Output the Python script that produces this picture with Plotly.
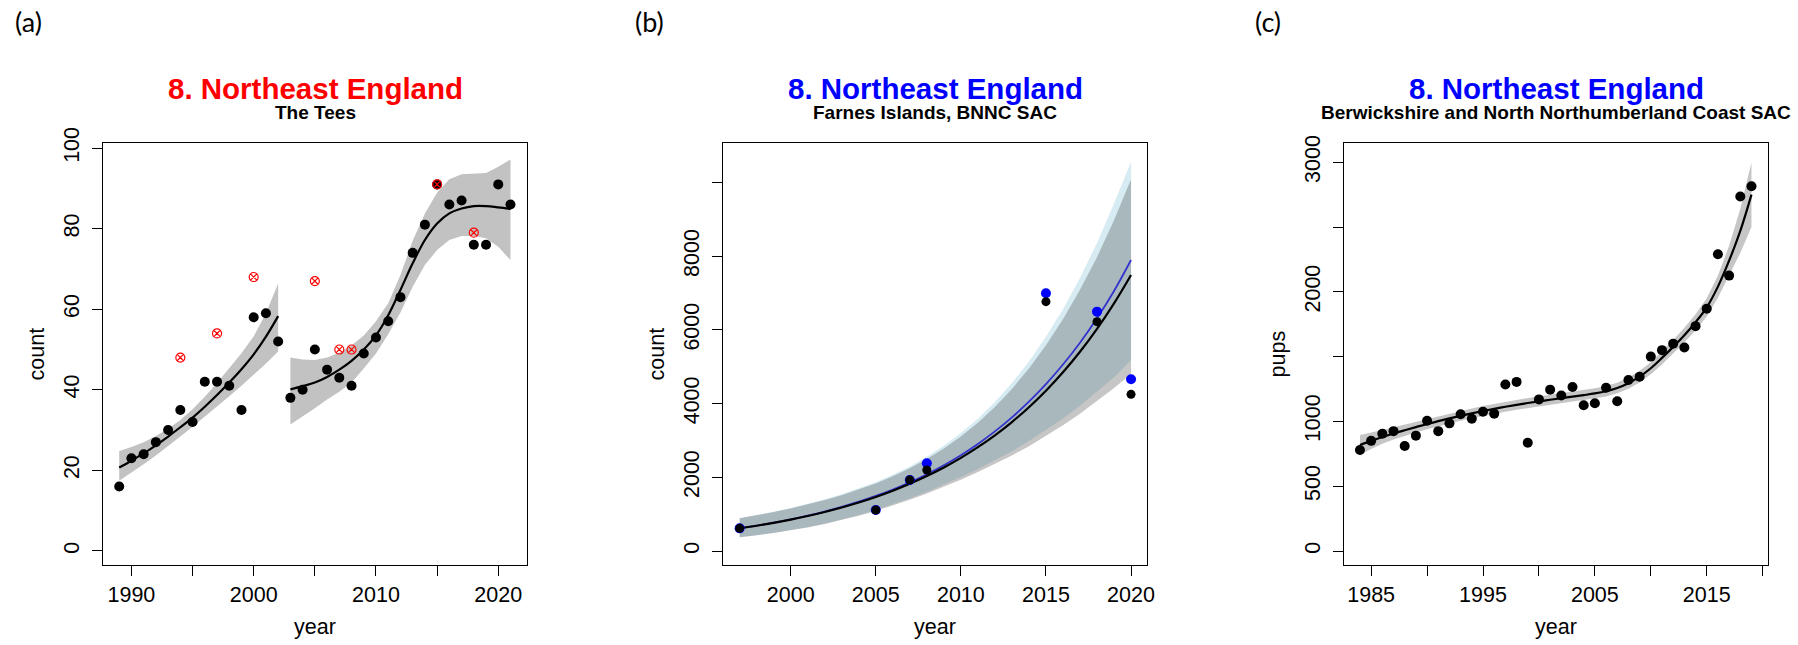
import plotly.graph_objects as go

W, H = 1798, 645
FONT = "Liberation Sans, Arial, sans-serif"

# ---------------- Panel (a): The Tees ----------------
a_years = list(range(1989, 2022))
a_counts = [16, 23, 24, 27, 30, 35, 32, 42, 42, 41, 35, 58, 59, 52, 38, 40, 50, 45, 43, 41,
            49, 53, 57, 63, 74, 81, 91, 86, 87, 76, 76, 91, 86]
a_red_years = [1994, 1997, 2000, 2005, 2007, 2008, 2015, 2018]
a_red_counts = [48, 54, 68, 67, 50, 50, 91, 79]

a_fit1_years = list(range(1989, 2003))
a_fit1 = [20.7, 22.4, 24.2, 26.2, 28.4, 30.7, 33.1, 35.8, 38.7, 41.8, 45.1, 48.8, 53.2, 58.3]
a_fit1_up = [24.8, 25.8, 27.0, 28.5, 30.3, 32.5, 35.2, 38.3, 41.7, 45.3, 49.1, 53.3, 59.0, 66.4]
a_fit1_lo = [17.4, 19.4, 21.5, 23.7, 26.0, 28.4, 30.8, 33.3, 35.8, 38.4, 41.0, 43.7, 46.5, 49.5]

a_fit2_years = list(range(2003, 2022))
a_fit2 = [40.1, 40.9, 41.8, 43.2, 45.0, 47.2, 50.0, 53.5, 58.5, 64.8, 71.4, 77.2, 81.3, 83.8,
          85.0, 85.6, 85.6, 85.3, 84.9]
a_fit2_up = [48.0, 47.5, 47.4, 48.0, 49.2, 51.0, 53.5, 57.0, 61.5, 68.5, 77.0, 83.8, 89.0, 92.3,
             93.5, 93.7, 93.8, 95.4, 97.2]
a_fit2_lo = [31.4, 33.5, 35.4, 37.6, 39.5, 41.8, 45.3, 49.0, 53.8, 59.2, 65.6, 71.0, 74.7, 77.2,
             78.2, 78.2, 77.6, 75.5, 72.2]

# ---------------- Panel (b): Farnes Islands ----------------
b_years = [1997, 2005, 2007, 2008, 2015, 2018, 2020]
b_black = [615, 1113, 1927, 2198, 6766, 6224, 4252]
b_blue = [615, 1113, 1927, 2380, 6993, 6496, 4659]

b_fit_years = list(range(1997, 2021))
b_fit_black = [615, 686, 765, 852, 950, 1059, 1181, 1316, 1467, 1636, 1824, 2033, 2266, 2527,
               2817, 3140, 3500, 3902, 4350, 4850, 5406, 6027, 6719, 7490]
b_black_up = [887, 969, 1059, 1156, 1264, 1383, 1516, 1666, 1835, 2027, 2245, 2497, 2783, 3108,
              3482, 3909, 4396, 4952, 5581, 6290, 7087, 7974, 8977, 10089]
b_black_lo = [372, 427, 489, 560, 641, 734, 839, 955, 1087, 1234, 1390, 1559, 1743, 1936,
              2141, 2358, 2594, 2845, 3119, 3410, 3725, 4062, 4421, 4801]
b_fit_blue = [615, 687, 768, 858, 959, 1071, 1197, 1337, 1494, 1669, 1865, 2084, 2328, 2601,
              2906, 3247, 3628, 4053, 4529, 5060, 5653, 6316, 7057, 7897]
b_blue_up = [887, 970, 1063, 1164, 1275, 1399, 1537, 1693, 1869, 2068, 2296, 2559, 2859, 3199,
             3592, 4043, 4557, 5143, 5811, 6563, 7411, 8356, 9428, 10566]
b_blue_lo = [372, 428, 492, 565, 649, 744, 852, 975, 1112, 1263, 1429, 1607, 1800, 2005,
             2223, 2458, 2710, 2983, 3279, 3598, 3940, 4314, 4714, 5180]

# ---------------- Panel (c): Berwickshire & N. Northumberland ----------------
c_years = list(range(1984, 2020))
c_pups = [780, 850, 905, 925, 810, 890, 1005, 925, 985, 1055, 1020, 1075, 1060, 1285, 1305, 835,
          1170, 1245, 1200, 1265, 1125, 1140, 1260, 1155, 1320, 1345, 1500, 1550, 1600, 1570,
          1735, 1870, 2290, 2125, 2735, 2815]
c_fit = [818, 850, 880, 907, 932, 956, 980, 1002, 1023, 1043, 1062, 1080, 1097, 1113, 1128, 1142,
         1155, 1167, 1179, 1191, 1203, 1216, 1233, 1258, 1295, 1345, 1410, 1490, 1575, 1665,
         1765, 1880, 2040, 2240, 2470, 2750]
c_up = [895, 912, 933, 954, 975, 997, 1020, 1041, 1061, 1081, 1100, 1118, 1135, 1151, 1166, 1180,
        1193, 1205, 1217, 1229, 1241, 1255, 1273, 1299, 1338, 1390, 1457, 1540, 1628, 1722,
        1827, 1950, 2125, 2355, 2640, 3000]
c_lo = [741, 788, 827, 860, 889, 915, 940, 963, 985, 1005, 1024, 1042, 1059, 1075, 1090, 1104,
        1117, 1129, 1141, 1153, 1165, 1177, 1193, 1217, 1252, 1300, 1363, 1440, 1522, 1608,
        1703, 1810, 1955, 2125, 2300, 2500]

# ticks
a_xticks = [1990, 1995, 2000, 2005, 2010, 2015, 2020]
a_xlabels = ["1990", "", "2000", "", "2010", "", "2020"]
a_yticks = [0, 20, 40, 60, 80, 100]
b_xticks = [2000, 2005, 2010, 2015, 2020]
b_yticks = [0, 2000, 4000, 6000, 8000, 10000]
b_ylabels = ["0", "2000", "4000", "6000", "8000", ""]
c_xticks = [1985, 1990, 1995, 2000, 2005, 2010, 2015, 2020]
c_xlabels = ["1985", "", "1995", "", "2005", "", "2015", ""]
c_yticks = [0, 500, 1000, 1500, 2000, 2500, 3000]
c_ylabels = ["0", "500", "1000", "", "2000", "", "3000"]

titles = ["8. Northeast England"] * 3
title_colors = ["#ff0000", "#0000ff", "#0000ff"]
subtitles = ["The Tees", "Farnes Islands, BNNC SAC",
             "Berwickshire and North Northumberland Coast SAC"]
ylabels = ["count", "count", "pups"]
letters = ["(a)", "(b)", "(c)"]

# ---------------- geometry (pixels) ----------------
plot_left = [103.3, 723.3, 1344.3]
plot_right = [527.0, 1146.7, 1767.7]
plot_top, plot_bottom = 143.3, 565.0
letter_x = [28, 649, 1268]


def px(x):
    return x / W


def py(y):
    return 1 - y / H


def band(years, up, lo):
    return list(years) + list(years)[::-1], list(up) + list(lo)[::-1]


fig = go.Figure()

# Panel a
bx, by = band(a_fit1_years, a_fit1_up, a_fit1_lo)
fig.add_trace(go.Scatter(x=bx, y=by, fill="toself", fillcolor="#c2c2c2", line=dict(width=0),
                         mode="lines", xaxis="x", yaxis="y", hoverinfo="skip"))
bx, by = band(a_fit2_years, a_fit2_up, a_fit2_lo)
fig.add_trace(go.Scatter(x=bx, y=by, fill="toself", fillcolor="#c2c2c2", line=dict(width=0),
                         mode="lines", xaxis="x", yaxis="y", hoverinfo="skip"))
fig.add_trace(go.Scatter(x=a_fit1_years, y=a_fit1, mode="lines", line=dict(color="black", width=2.2),
                         line_shape="spline", xaxis="x", yaxis="y"))
fig.add_trace(go.Scatter(x=a_fit2_years, y=a_fit2, mode="lines", line=dict(color="black", width=2.2),
                         line_shape="spline", xaxis="x", yaxis="y"))
fig.add_trace(go.Scatter(x=a_years, y=a_counts, mode="markers",
                         marker=dict(color="black", size=10, line=dict(width=0)), xaxis="x", yaxis="y"))
fig.add_trace(go.Scatter(x=a_red_years, y=a_red_counts, mode="markers",
                         marker=dict(symbol="circle-x-open", color="#ff0000", size=9,
                                     line=dict(width=1.2, color="#ff0000")),
                         xaxis="x", yaxis="y"))

# Panel b
bx, by = band(b_fit_years, b_blue_up, b_blue_lo)
fig.add_trace(go.Scatter(x=bx, y=by, fill="toself", fillcolor="rgba(173,216,230,0.5)",
                         line=dict(width=0), mode="lines", xaxis="x2", yaxis="y2", hoverinfo="skip"))
bx, by = band(b_fit_years, b_black_up, b_black_lo)
fig.add_trace(go.Scatter(x=bx, y=by, fill="toself", fillcolor="rgba(60,60,60,0.29)",
                         line=dict(width=0), mode="lines", xaxis="x2", yaxis="y2", hoverinfo="skip"))
fig.add_trace(go.Scatter(x=b_fit_years, y=b_fit_blue, mode="lines", line=dict(color="#3333cc", width=1.8),
                         line_shape="spline", xaxis="x2", yaxis="y2"))
fig.add_trace(go.Scatter(x=b_fit_years, y=b_fit_black, mode="lines", line=dict(color="black", width=2.2),
                         line_shape="spline", xaxis="x2", yaxis="y2"))
fig.add_trace(go.Scatter(x=b_years, y=b_blue, mode="markers",
                         marker=dict(color="#0000ff", size=10, line=dict(width=0)), xaxis="x2", yaxis="y2"))
fig.add_trace(go.Scatter(x=b_years, y=b_black, mode="markers",
                         marker=dict(color="black", size=9, line=dict(width=0)), xaxis="x2", yaxis="y2"))

# Panel c
bx, by = band(c_years, c_up, c_lo)
fig.add_trace(go.Scatter(x=bx, y=by, fill="toself", fillcolor="#c6c6c6", line=dict(width=0),
                         mode="lines", xaxis="x3", yaxis="y3", hoverinfo="skip"))
fig.add_trace(go.Scatter(x=c_years, y=c_fit, mode="lines", line=dict(color="black", width=2.2),
                         line_shape="spline", xaxis="x3", yaxis="y3"))
fig.add_trace(go.Scatter(x=c_years, y=c_pups, mode="markers",
                         marker=dict(color="black", size=10, line=dict(width=0)), xaxis="x3", yaxis="y3"))

tickfont = dict(family=FONT, size=21.5, color="black")


def xaxis(i, rng, tv, tt):
    return dict(domain=[px(plot_left[i]), px(plot_right[i])], range=rng, anchor="y" + ("" if i == 0 else str(i + 1)),
                tickmode="array", tickvals=tv, ticktext=tt, ticks="outside", ticklen=10, tickwidth=1.2,
                tickcolor="black", showline=True, linecolor="black", linewidth=1.3, mirror=True,
                showgrid=False, zeroline=False, tickfont=tickfont, automargin=False, ticklabelstandoff=0)


def yaxis(i, rng, tv, tt):
    return dict(domain=[py(plot_bottom), py(plot_top)], range=rng, anchor="x" + ("" if i == 0 else str(i + 1)),
                tickmode="array", tickvals=tv, ticktext=tt, ticks="outside", ticklen=10, tickwidth=1.2,
                tickcolor="black", showline=True, linecolor="black", linewidth=1.3, mirror=True,
                showgrid=False, zeroline=False, tickfont=tickfont, tickangle=-90, automargin=False,
                ticklabelstandoff=5)


layout = dict(
    width=W, height=H, margin=dict(l=0, r=0, t=0, b=0), showlegend=False,
    paper_bgcolor="white", plot_bgcolor="white",
    xaxis=xaxis(0, [1987.7, 2022.35], a_xticks, a_xlabels),
    yaxis=yaxis(0, [-3.5, 101.2], a_yticks, [str(v) for v in a_yticks]),
    xaxis2=xaxis(1, [1996.04, 2020.92], b_xticks, [str(v) for v in b_xticks]),
    yaxis2=yaxis(1, [-380, 11064], b_yticks, b_ylabels),
    xaxis3=xaxis(2, [1982.6, 2020.45], c_xticks, c_xlabels),
    yaxis3=yaxis(2, [-108, 3146], c_yticks, c_ylabels),
)

ann = []
for i in range(3):
    cx = (plot_left[i] + plot_right[i]) / 2
    ann.append(dict(x=px(cx), y=py(88), xref="paper", yref="paper", text="<b>%s</b>" % titles[i],
                    showarrow=False, xanchor="center", yanchor="middle",
                    font=dict(family=FONT, size=29.5, color=title_colors[i])))
    ann.append(dict(x=px(cx), y=py(112), xref="paper", yref="paper", text="<b>%s</b>" % subtitles[i],
                    showarrow=False, xanchor="center", yanchor="middle",
                    font=dict(family=FONT, size=19, color="black")))
    ann.append(dict(x=px(cx), y=py(627), xref="paper", yref="paper", text="year",
                    showarrow=False, xanchor="center", yanchor="middle",
                    font=dict(family=FONT, size=21.5, color="black")))
    ann.append(dict(x=px(plot_left[i] - 66), y=py((plot_top + plot_bottom) / 2), xref="paper", yref="paper",
                    text=ylabels[i], textangle=-90, showarrow=False, xanchor="center", yanchor="middle",
                    font=dict(family=FONT, size=21.5, color="black")))
    ann.append(dict(x=px(letter_x[i]), y=py(22), xref="paper", yref="paper", text=letters[i],
                    showarrow=False, xanchor="center", yanchor="middle",
                    font=dict(family="Lato, Carlito, sans-serif", size=27, color="black")))
layout["annotations"] = ann

fig.update_layout(**layout)
fig.write_html("out.html")
